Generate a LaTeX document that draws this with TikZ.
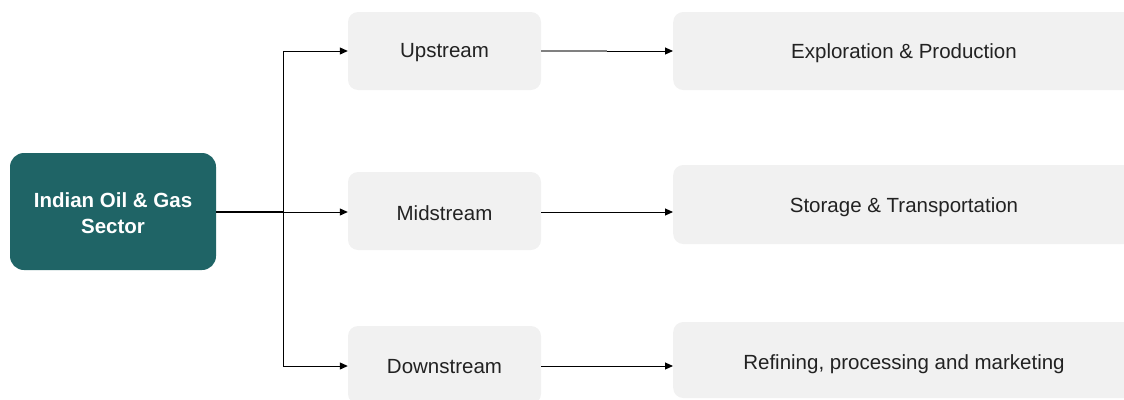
\documentclass[tikz,border=0pt]{standalone}
\usepackage{fontspec}
\setmainfont{Liberation Sans}
\usetikzlibrary{arrows.meta}
\definecolor{teal}{HTML}{1F6466}
\definecolor{boxgray}{HTML}{F1F1F1}
\definecolor{txt}{HTML}{222222}
\tikzset{
  mainbox/.style={draw=none,fill=teal,rounded corners=14pt,text=white,font=\bfseries\fontsize{20.5}{26}\selectfont,align=center},
  graybox/.style={draw=none,fill=boxgray,rounded corners=10pt,text=txt,font=\fontsize{20.5}{25}\selectfont},
  lbl/.style={text=txt,font=\fontsize{20.5}{25}\selectfont},
  conn/.style={line width=1pt,-{Triangle[length=8pt,width=7pt]}},
}
\begin{document}
\begin{tikzpicture}[x=1pt,y=-1pt]
\useasboundingbox (0,0) rectangle (1124,399);
\clip (0,0) rectangle (1124,399);
% main box
\node[mainbox,minimum width=206pt,minimum height=117pt] (main) at (113,211.5) {};
\node[mainbox,fill=none] (mainlabel) at (113,213) {Indian Oil \& Gas\\Sector};
% left boxes
\node[graybox,minimum width=193pt,minimum height=78pt] (up) at (444.5,51) {};
\node[graybox,minimum width=193pt,minimum height=78pt] (mid) at (444.5,211) {};
\node[graybox,minimum width=193pt,minimum height=78pt] (down) at (444.5,365) {};
\node[lbl] (uplabel) at (444.5,53) {Upstream};
\node[lbl] (midlabel) at (444.5,213) {Midstream};
\node[lbl] (downlabel) at (444.5,367) {Downstream};
% right boxes (extend beyond the edge)
\node[graybox,minimum width=477pt,minimum height=78pt,anchor=west] (ep) at (673,51) {};
\node[graybox,minimum width=477pt,minimum height=79pt,anchor=west] (st) at (673,204.5) {};
\node[graybox,minimum width=477pt,minimum height=76pt,anchor=west] (rf) at (673,360) {};
\node[lbl] (eplabel) at (904,53) {Exploration \& Production};
\node[lbl] (stlabel) at (904,207) {Storage \& Transportation};
\node[lbl] (rflabel) at (904,364) {Refining, processing and marketing};
% trunk
\coordinate (j) at (283,212);
\coordinate (jt) at (283,51);
\coordinate (jb) at (283,366);
\draw[line width=2pt] (main.east |- j) -- (j);
\draw[line width=1pt] (jt) -- (jb);
\draw[conn] (jt) -- (up.west |- jt);
\draw[conn] (j) -- (mid.west |- j);
\draw[conn] (jb) -- (down.west |- jb);
% right connectors
\coordinate (mk) at (607,51);
\draw[line width=1.8pt,gray] (up.east |- mk) -- (mk);
\draw[conn] (mk) -- (ep.west |- mk);
\draw[conn] (mid.east |- j) -- (st.west |- j);
\draw[conn] (down.east |- jb) -- (rf.west |- jb);
\end{tikzpicture}
\end{document}
